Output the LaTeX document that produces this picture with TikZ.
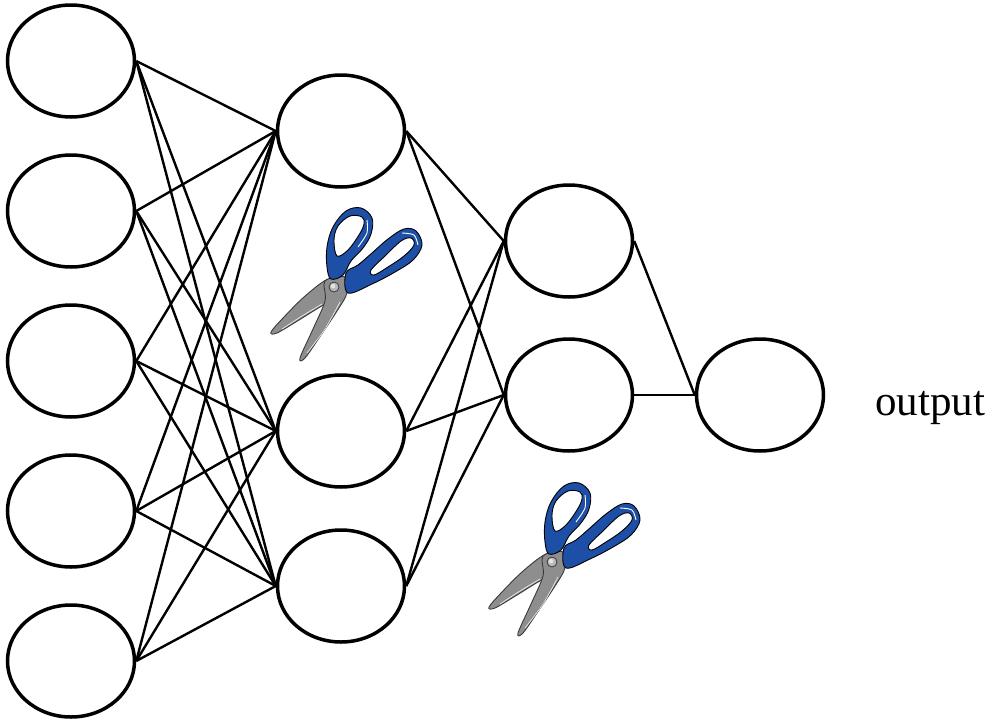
\documentclass[tikz,border=0pt]{standalone}
\usepackage{fontspec}
\setmainfont{Liberation Serif}
\usetikzlibrary{shapes.geometric}

\definecolor{handleblue}{HTML}{1E4FA6}
\definecolor{bladegrey}{HTML}{8E8E8E}
\definecolor{bladeedge}{HTML}{3A3A3A}

% A pair of scissors, drawn around its pivot screw
\tikzset{
  scissors/.pic={
    % blades
    \filldraw[fill=bladegrey, draw=bladeedge, line width=0.9pt]
      plot[smooth cycle, tension=0.55] coordinates
      {(7,-9) (-8,-7) (-30,10) (-50,30) (-63,45) (-57,46) (-35,33) (-14,20) (6,9)};
    \draw[white!85!gray, line width=0.7pt]
      plot[smooth] coordinates {(-12,17) (-32,29) (-52,42)};
    \filldraw[fill=bladegrey, draw=bladeedge, line width=0.9pt]
      plot[smooth cycle, tension=0.55] coordinates
      {(-9,-6) (-9,14) (-21,42) (-34,71) (-29,71) (-13,48) (3,24) (13,6) (11,-10)};
    \draw[white!85!gray, line width=0.7pt]
      plot[smooth] coordinates {(6,15) (-9,42) (-27,66)};
    % handles, each with its finger hole
    \filldraw[fill=handleblue, draw=black, line width=0.9pt, even odd rule]
      plot[smooth cycle, tension=0.6] coordinates
      {(9,-12) (17,-26) (29,-39) (37,-53) (38,-69) (27,-79) (12,-76) (-1,-60) (-7,-40) (-7,-20) (-3,-8)}
      plot[smooth cycle, tension=0.6] coordinates
      {(28,-70) (16,-71) (4,-61) (0,-47) (3,-31) (14,-37) (25,-52) (30,-63)};
    \draw[white, line width=0.9pt]
      plot[smooth] coordinates {(33,-67) (33,-54) (24,-40)};
    \filldraw[fill=handleblue, draw=black, line width=0.9pt, even odd rule]
      plot[smooth cycle, tension=0.6] coordinates
      {(12,-14) (24,-22) (38,-34) (54,-48) (70,-58) (82,-56) (88,-42) (79,-27) (61,-15) (38,-3) (14,6)}
      plot[smooth cycle, tension=0.6] coordinates
      {(37,-17) (51,-31) (67,-46) (77,-49) (80,-42) (70,-31) (54,-20) (40,-12)};
    \draw[white, line width=0.9pt]
      plot[smooth] coordinates {(68,-54) (80,-52) (84,-42)};
    % pivot screw
    \filldraw[fill=gray!55, draw=bladeedge, line width=0.8pt] (0,0) circle (5);
    \fill[gray!20] (-0.9,-0.9) circle (2.2);
  }
}

\begin{document}
\begin{tikzpicture}[x=1pt, y=-1pt,
  neuron/.style={draw, ellipse, line width=3.5pt, minimum width=127pt,
                 minimum height=112pt, inner sep=0pt},
  link/.style={line width=2.4pt},
  label/.style={font=\fontsize{43}{50}\selectfont, inner sep=0pt}]
\useasboundingbox (0,0) rectangle (989,723);

% input layer
\node[neuron] (i1) at (71,61) {};
\node[neuron] (i2) at (71,211) {};
\node[neuron] (i3) at (71,361) {};
\node[neuron] (i4) at (71,511) {};
\node[neuron] (i5) at (71,661) {};
% first hidden layer
\node[neuron] (h1) at (341,131) {};
\node[neuron] (h2) at (341,431) {};
\node[neuron] (h3) at (341,586) {};
% second hidden layer
\node[neuron] (g1) at (569,241) {};
\node[neuron] (g2) at (569,395) {};
% output unit
\node[neuron] (o) at (760,395) {};
\node[label, anchor=base west] (out) at (875,415) {output};

% connections
\foreach \i in {1,...,5}
  \foreach \h in {1,2,3}
    \draw[link] (i\i.east) -- (h\h.west);
\foreach \h in {1,2,3}
  \foreach \g in {1,2}
    \draw[link] (h\h.east) -- (g\g.west);
\draw[link] (g1.east) -- (o.west);
\draw[link] (g2.east) -- (o.west);

% pruning marks
\pic at (334,287) {scissors};
\pic at (552,562) {scissors};
\end{tikzpicture}
\end{document}
